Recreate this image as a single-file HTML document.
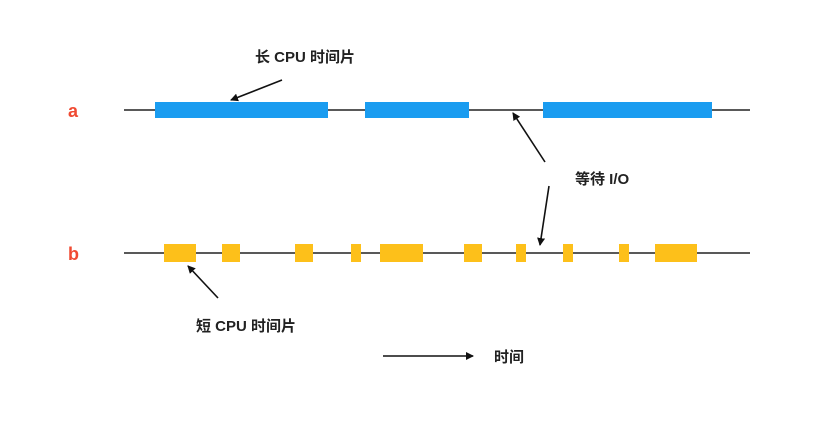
<!DOCTYPE html>
<html><head><meta charset="utf-8"><style>
body{margin:0;background:#fff;width:840px;height:443px;overflow:hidden}
svg text{font-family:"Liberation Sans","Noto Sans CJK SC",sans-serif;font-weight:bold}
</style></head><body>
<svg width="840" height="443" viewBox="0 0 840 443">
<defs><marker id="ah" markerWidth="8" markerHeight="8" refX="7" refY="4" orient="auto" markerUnits="userSpaceOnUse"><path d="M0,0 L8,4 L0,8 z" fill="#111"/></marker></defs>
<text x="68" y="117" font-size="18" fill="#f04a32">a</text>
<text x="68" y="260" font-size="18" fill="#f04a32">b</text>
<line x1="124" y1="110" x2="750" y2="110" stroke="#222" stroke-width="1.6"/>
<g fill="#1a9cf0">
<rect x="155" y="102" width="173" height="16"/><rect x="365" y="102" width="104" height="16"/><rect x="543" y="102" width="169" height="16"/>
</g>
<line x1="124" y1="253" x2="750" y2="253" stroke="#222" stroke-width="1.6"/>
<g fill="#fdc01a">
<rect x="164" y="244" width="32" height="18"/><rect x="222" y="244" width="18" height="18"/><rect x="295" y="244" width="18" height="18"/><rect x="351" y="244" width="10" height="18"/><rect x="380" y="244" width="43" height="18"/><rect x="464" y="244" width="18" height="18"/><rect x="516" y="244" width="10" height="18"/><rect x="563" y="244" width="10" height="18"/><rect x="619" y="244" width="10" height="18"/><rect x="655" y="244" width="42" height="18"/>
</g>
<g stroke="#111" stroke-width="1.6" marker-end="url(#ah)">
<line x1="282" y1="80" x2="231" y2="100"/>
<line x1="545" y1="162" x2="513" y2="113"/>
<line x1="549" y1="186" x2="540" y2="245"/>
<line x1="218" y1="298" x2="188" y2="266"/>
<line x1="383" y1="356" x2="473" y2="356"/>
</g>
<text x="255" y="62" font-size="15" fill="#222">长 CPU 时间片</text>
<text x="575" y="184" font-size="15" fill="#222">等待 I/O</text>
<text x="196" y="331" font-size="15" fill="#222">短 CPU 时间片</text>
<text x="494" y="362" font-size="15" fill="#222">时间</text>
</svg>
</body></html>
